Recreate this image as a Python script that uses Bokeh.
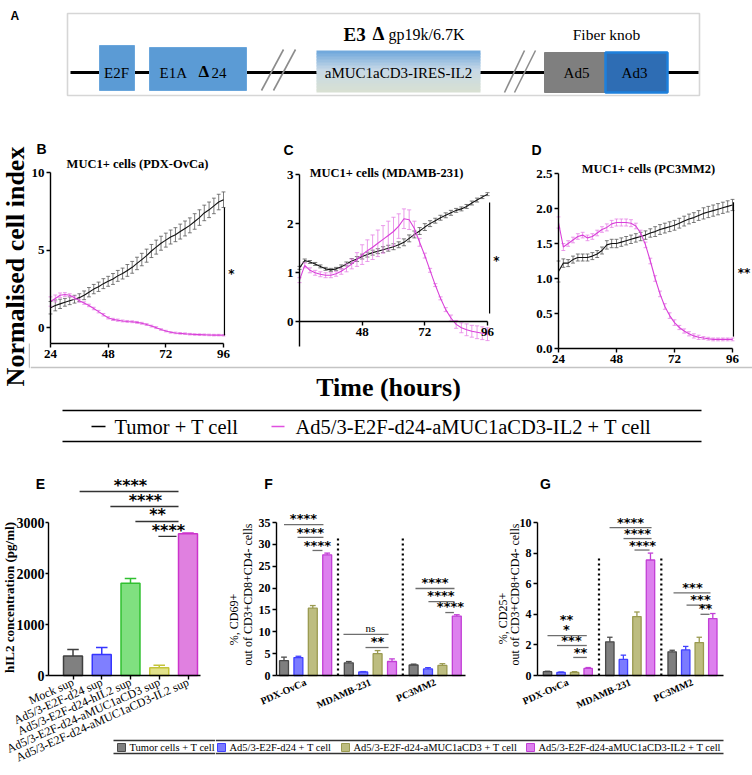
import math
from bokeh.plotting import figure
from bokeh.layouts import row, column
from bokeh.models import Range1d, Label, FixedTicker, NumeralTickFormatter
from bokeh.embed import file_html
from bokeh.resources import INLINE

SERIF = "Liberation Serif"
SANS = "Liberation Sans"
STARF = "DejaVu Sans"

# ------------------------------------------------------------------ data
hours = list(range(24, 97, 2))
ts_names = ["Tumor + T cell", "Ad5/3-E2F-d24-aMUC1aCD3-IL2 + T cell"]

b_tumor = [1.30, 1.45, 1.55, 1.65, 1.75, 1.85, 1.95, 2.10, 2.30, 2.50,
           2.65, 2.85, 3.00, 3.15, 3.35, 3.50, 3.70, 3.90, 4.15, 4.40,
           4.65, 4.95, 5.20, 5.45, 5.65, 5.85, 6.00, 6.20, 6.40, 6.60,
           6.85, 7.10, 7.40, 7.60, 7.85, 8.10, 8.25]
b_tumor_err = [0.40, 0.35, 0.30, 0.25, 0.25, 0.25, 0.25, 0.28, 0.30, 0.30,
               0.30, 0.32, 0.32, 0.35, 0.35, 0.35, 0.38, 0.38, 0.40, 0.40,
               0.42, 0.42, 0.45, 0.45, 0.45, 0.45, 0.45, 0.48, 0.48, 0.48,
               0.50, 0.50, 0.50, 0.50, 0.50, 0.50, 0.50]
b_virus = [1.70, 1.90, 2.10, 2.15, 2.10, 1.95, 1.75, 1.60, 1.45, 1.25,
           1.05, 0.85, 0.65, 0.55, 0.50, 0.45, 0.42, 0.40, 0.36, 0.30,
           0.22, 0.12, 0.02, -0.10, -0.20, -0.28, -0.32, -0.35, -0.37, -0.40,
           -0.42, -0.43, -0.44, -0.45, -0.46, -0.46, -0.47]
b_virus_err = [0.30, 0.22, 0.15, 0.12, 0.10, 0.10, 0.10, 0.08, 0.08, 0.08,
               0.08, 0.08, 0.07, 0.07, 0.07, 0.06, 0.06, 0.06, 0.06, 0.06,
               0.06, 0.06, 0.06, 0.05, 0.05, 0.05, 0.05, 0.05, 0.05, 0.05,
               0.05, 0.05, 0.05, 0.05, 0.05, 0.05, 0.05]

c_tumor = [1.10, 1.25, 1.22, 1.18, 1.13, 1.08, 1.06, 1.08, 1.12, 1.18,
           1.24, 1.28, 1.33, 1.37, 1.41, 1.44, 1.47, 1.50, 1.53, 1.57,
           1.62, 1.70, 1.78, 1.85, 1.93, 2.00, 2.06, 2.12, 2.17, 2.22,
           2.27, 2.30, 2.35, 2.42, 2.48, 2.54, 2.60]
c_tumor_err = [0.03, 0.03, 0.03, 0.03, 0.03, 0.03, 0.03, 0.03, 0.04, 0.04,
               0.05, 0.05, 0.05, 0.05, 0.05, 0.05, 0.06, 0.06, 0.06, 0.06,
               0.07, 0.07, 0.07, 0.07, 0.07, 0.06, 0.05, 0.05, 0.05, 0.05,
               0.04, 0.04, 0.04, 0.04, 0.04, 0.03, 0.03]
c_virus = [0.85, 1.15, 1.05, 1.00, 0.97, 0.95, 0.95, 0.98, 1.03, 1.10,
           1.18, 1.27, 1.37, 1.45, 1.52, 1.60, 1.68, 1.76, 1.84, 1.95,
           2.10, 2.08, 1.90, 1.62, 1.35, 1.05, 0.75, 0.48, 0.25, 0.08,
           -0.05, -0.12, -0.16, -0.19, -0.21, -0.23, -0.25]
c_virus_err = [0.05, 0.05, 0.05, 0.05, 0.05, 0.05, 0.05, 0.05, 0.06, 0.08,
               0.10, 0.14, 0.20, 0.22, 0.25, 0.27, 0.28, 0.29, 0.29, 0.25,
               0.20, 0.20, 0.15, 0.08, 0.05, 0.04, 0.03, 0.03, 0.04, 0.06,
               0.08, 0.10, 0.12, 0.12, 0.13, 0.13, 0.13]

d_tumor = [1.10, 1.22, 1.22, 1.27, 1.30, 1.30, 1.30, 1.32, 1.35, 1.40,
           1.48, 1.50, 1.50, 1.52, 1.54, 1.56, 1.58, 1.60, 1.62, 1.65,
           1.67, 1.70, 1.72, 1.74, 1.76, 1.79, 1.82, 1.85, 1.87, 1.90,
           1.93, 1.95, 1.97, 1.99, 2.01, 2.03, 2.05]
d_tumor_err = [0.15, 0.06, 0.05, 0.05, 0.05, 0.05, 0.05, 0.05, 0.05, 0.05,
               0.06, 0.06, 0.06, 0.06, 0.06, 0.06, 0.06, 0.06, 0.06, 0.06,
               0.07, 0.07, 0.07, 0.07, 0.07, 0.07, 0.07, 0.07, 0.07, 0.07,
               0.08, 0.08, 0.08, 0.08, 0.08, 0.08, 0.08]
d_virus = [1.80, 1.45, 1.50, 1.55, 1.60, 1.62, 1.58, 1.60, 1.65, 1.70,
           1.73, 1.78, 1.80, 1.80, 1.80, 1.79, 1.75, 1.65, 1.48, 1.25,
           1.00, 0.78, 0.60, 0.47, 0.37, 0.30, 0.25, 0.21, 0.18, 0.16,
           0.15, 0.14, 0.13, 0.13, 0.13, 0.13, 0.13]
d_virus_err = [0.08, 0.05, 0.04, 0.04, 0.04, 0.04, 0.04, 0.04, 0.04, 0.04,
               0.05, 0.05, 0.05, 0.05, 0.05, 0.05, 0.04, 0.04, 0.04, 0.04,
               0.04, 0.04, 0.04, 0.04, 0.04, 0.03, 0.03, 0.03, 0.03, 0.03,
               0.02, 0.02, 0.02, 0.02, 0.02, 0.02, 0.02]

e_labels = ["Mock sup", "Ad5/3-E2F-d24 sup", "Ad5/3-E2F-d24-hIL2 sup",
            "Ad5/3-E2F-d24-aMUC1aCD3 sup", "Ad5/3-E2F-d24-aMUC1aCD3-IL2 sup"]
e_values = [380, 410, 1810, 150, 2780]
e_errors = [130, 140, 90, 50, 12]

cell_lines = ["PDX-OvCa", "MDAMB-231", "PC3MM2"]
treatments = ["Tumor cells + T cell", "Ad5/3-E2F-d24 + T cell",
              "Ad5/3-E2F-d24-aMUC1aCD3 + T cell", "Ad5/3-E2F-d24-aMUC1aCD3-IL2 + T cell"]
f_tumor = [3.4, 2.9, 2.4]
f_tumor_err = [0.8, 0.3, 0.2]
f_d24 = [4.1, 0.8, 1.5]
f_d24_err = [0.3, 0.1, 0.3]
f_muc = [15.4, 5.0, 2.3]
f_muc_err = [0.6, 0.7, 0.4]
f_il2 = [27.6, 3.2, 13.6]
f_il2_err = [0.4, 0.6, 0.3]
g_tumor = [0.25, 2.2, 1.55]
g_tumor_err = [0.03, 0.3, 0.1]
g_d24 = [0.2, 1.05, 1.67]
g_d24_err = [0.03, 0.28, 0.23]
g_muc = [0.2, 3.85, 2.15]
g_muc_err = [0.05, 0.3, 0.35]
g_il2 = [0.46, 7.55, 3.72]
g_il2_err = [0.06, 0.45, 0.33]

# significance annotations: (x_from, x_to, y_line) and (text, x, y) in data units
e_sig_lines = [(1.23, 4.67, 3608), (2.3, 4.67, 3314), (3.17, 4.67, 3020), (3.97, 4.6, 2726)]
e_sig_text = [("****", 3.0, 3784), ("****", 3.52, 3490), ("**", 3.94, 3216), ("****", 4.32, 2902)]
f_sig_lines = [(0.0, 2.74, 34.5), (0.94, 2.74, 31.6), (1.98, 2.67, 28.6),
               (4.13, 7.26, 9.4), (5.66, 7.26, 6.4),
               (9.13, 11.84, 19.9), (10.03, 11.84, 16.9), (11.2, 11.8, 14.4)]
f_sig_text = [("****", 1.35, 36.4), ("****", 1.83, 33.2), ("****", 2.32, 30.2),
              ("ns", 6.0, 10.8), ("**", 6.49, 8.2),
              ("****", 10.49, 21.7), ("****", 10.9, 18.8), ("****", 11.56, 16.2)]
g_sig_lines = [(0.0, 2.9, 2.6), (0.7, 2.9, 1.96), (1.9, 2.9, 1.18),
               (4.58, 7.68, 9.67), (5.61, 7.68, 8.95), (6.42, 7.53, 8.2),
               (9.3, 12.03, 5.4), (10.26, 12.03, 4.6), (11.29, 11.96, 4.0)]
g_sig_text = [("**", 1.4, 3.8), ("*", 1.4, 3.14), ("***", 1.77, 2.42), ("**", 2.44, 1.63),
              ("****", 6.13, 10.13), ("****", 6.64, 9.41), ("****", 7.01, 8.63),
              ("***", 10.7, 5.88), ("***", 11.29, 5.1), ("**", 11.66, 4.5)]

# ------------------------------------------------------------------ styles
TUMOR_LINE, TUMOR_ERR = "#111111", "#5a5a5a"
VIRUS_LINE, VIRUS_ERR = "#d940d9", "#e683e6"
E_FILL = ["#808080", "#7f7fff", "#80e080", "#e2e28a", "#e080e0"]
E_EDGE = ["#3f3f3f", "#3535ff", "#30c030", "#c4c43a", "#cc33cc"]
T_FILL = ["#7f7f7f", "#7b7bff", "#bdbd80", "#dd80ee"]
T_EDGE = ["#4a4a4a", "#4040ff", "#9a9a50", "#c23fd6"]


class Geo:
    """maps page pixels to data values"""
    def __init__(self, box, frame, xr, yr):
        self.box, self.frame, self.xr, self.yr = box, frame, xr, yr

    def X(self, px):
        f0, f1 = self.frame[0], self.frame[1]
        return self.xr[0] + (px - f0) * (self.xr[1] - self.xr[0]) / (f1 - f0)

    def Y(self, py):
        f0, f1 = self.frame[2], self.frame[3]
        return self.yr[1] - (py - f0) * (self.yr[1] - self.yr[0]) / (f1 - f0)


def flat(box):
    return Geo(box, box, (box[0], box[1]), (box[3], box[2]))


def extend(box, plot, xr, yr):
    inner = Geo(box, plot, xr, yr)
    return Geo(box, box, (inner.X(box[0]), inner.X(box[1])), (inner.Y(box[3]), inner.Y(box[2])))


def make_fig(g, axes=True):
    bx0, bx1, by0, by1 = g.box
    kw = dict(width=bx1 - bx0, height=by1 - by0,
              x_range=Range1d(*g.xr), y_range=Range1d(*g.yr),
              toolbar_location=None, output_backend="svg",
              min_border_left=0, min_border_right=0, min_border_top=0, min_border_bottom=0)
    if not axes:
        kw.update(x_axis_location=None, y_axis_location=None)
    p = figure(**kw)
    p.title.visible = False
    p.outline_line_color = None
    p.background_fill_color = "white"
    p.border_fill_color = "white"
    p.grid.visible = False
    return p


def style_axes(p, size, xr, yr, bold=True):
    p.xaxis.fixed_location = yr[0]
    p.xaxis.bounds = xr
    p.yaxis.fixed_location = xr[0]
    p.yaxis.bounds = yr
    for ax in (p.xaxis[0], p.yaxis[0]):
        ax.axis_line_color = "black"
        ax.axis_line_width = 1.4
        ax.major_tick_line_color = "black"
        ax.major_tick_line_width = 1.4
        ax.major_tick_out = 4
        ax.major_tick_in = 0
        ax.minor_tick_line_color = None
        ax.major_label_text_font = SERIF
        ax.major_label_text_font_style = "bold" if bold else "normal"
        ax.major_label_text_font_size = f"{size}px"
        ax.major_label_text_color = "black"
        ax.major_label_standoff = 2


def text(p, g, px, py, s, size, font=SERIF, style="normal", align="center",
         baseline="middle", angle=0.0, color="black"):
    p.add_layout(Label(x=g.X(px), y=g.Y(py), text=s, text_font=font,
                       text_font_size=f"{size}px", text_font_style=style,
                       text_align=align, text_baseline=baseline, angle=angle,
                       text_color=color))


def stars(p, x, y, s, size, font=STARF, style="bold"):
    p.add_layout(Label(x=x, y=y, text=s, text_font=font, text_font_size=f"{size}px",
                       text_font_style=style, text_align="center", text_baseline="middle",
                       y_offset=-0.17 * size if "*" in s else 0, text_color="black"))


def pline(p, g, px0, py0, px1, py1, color="black", width=1.2):
    p.segment([g.X(px0)], [g.Y(py0)], [g.X(px1)], [g.Y(py1)], line_color=color, line_width=width)


def pbox(p, g, px0, px1, py0, py1, fill, edge, width=1):
    p.quad(left=[g.X(px0)], right=[g.X(px1)], top=[g.Y(py0)], bottom=[g.Y(py1)],
           fill_color=fill, line_color=edge, line_width=width)


# ------------------------------------------------------------------ panel A
ga = flat((0, 752, 0, 108))
pa = make_fig(ga, axes=False)
pa.quad(left=[67], right=[699], top=[13], bottom=[95], fill_color=None,
        line_color="#d6d6d6", line_width=1.6)
pa.line([70, 698], [72, 72], line_color="black", line_width=3)
pa.quad(left=[99], right=[134], top=[45], bottom=[90], fill_color="#5b9bd5", line_color="#6aa6dc")
pa.quad(left=[149], right=[246], top=[47], bottom=[90], fill_color="#5b9bd5", line_color="#6aa6dc")


def mix(c1, c2, t):
    a = [int(c1[i:i + 2], 16) for i in (1, 3, 5)]
    b = [int(c2[i:i + 2], 16) for i in (1, 3, 5)]
    return "#%02x%02x%02x" % tuple(round(a[k] + (b[k] - a[k]) * t) for k in range(3))


n_strip = 14
gt, gb, gc = [], [], []
for i in range(n_strip):
    gt.append(50 + i * 3)
    gb.append(54 + i * 3 if i < n_strip - 1 else 92)
    t = i / (n_strip - 1)
    gc.append(mix("#72a9dc", "#c6d8e6", t / 0.45) if t < 0.45 else mix("#c6d8e6", "#d8e0d3", (t - 0.45) / 0.55))
pa.quad(left=[316] * n_strip, right=[480] * n_strip, top=gt, bottom=gb, fill_color=gc, line_color=None)
pa.quad(left=[544], right=[605], top=[52], bottom=[92], fill_color="#7f7f7f", line_color="#7f7f7f")
pa.quad(left=[605], right=[667], top=[52], bottom=[92], fill_color="#2e6db4", line_color="#1e80dc", line_width=2.5)
pa.segment(x0=[261, 273, 504, 514], y0=[90, 90, 92, 92], x1=[283, 295, 524, 535], y1=[49, 49, 50, 50],
           line_color="#8c8c8c", line_width=1.6)
text(pa, ga, 10, 15, "A", 12, SANS, "bold", align="left")
text(pa, ga, 116, 72, "E2F", 15)
text(pa, ga, 159, 72, "E1A", 15, align="left")
text(pa, ga, 198, 71, "Δ", 17, style="bold", align="left")
text(pa, ga, 211, 72, "24", 15, align="left")
text(pa, ga, 398, 72, "aMUC1aCD3-IRES-IL2", 15)
text(pa, ga, 576, 72, "Ad5", 15)
text(pa, ga, 634, 72, "Ad3", 15)
text(pa, ga, 343, 34, "E3", 19, style="bold", align="left")
text(pa, ga, 372, 33, "Δ", 19, style="bold", align="left")
text(pa, ga, 388, 34, "gp19k/6.7K", 16, align="left")
text(pa, ga, 606, 34, "Fiber knob", 15.5)


# ------------------------------------------------------------------ panels B, C, D
def draw_series(p, xs, ys, es, lc, ec, cap):
    lo = [y - e for y, e in zip(ys, es)]
    hi = [y + e for y, e in zip(ys, es)]
    p.segment(xs, lo, xs, hi, line_color=ec, line_width=0.8)
    p.segment([x - cap for x in xs], hi, [x + cap for x in xs], hi, line_color=ec, line_width=0.8)
    p.segment([x - cap for x in xs], lo, [x + cap for x in xs], lo, line_color=ec, line_width=0.8)
    p.line(xs, ys, line_color=lc, line_width=1.1)


def ts_panel(box, plot, yr, yticks, xticks, tumor, tumor_err, virus, virus_err,
             title, title_xy, letter, letter_xy, sig, yfmt=None, xaxis_y=None):
    xr = (24, 96)
    g = extend(box, plot, xr, yr)
    p = make_fig(g)
    style_axes(p, 13, xr, yr)
    if xaxis_y is not None:
        p.xaxis.fixed_location = xaxis_y
    p.yaxis.ticker = FixedTicker(ticks=yticks)
    p.xaxis.ticker = FixedTicker(ticks=xticks)
    if yfmt:
        p.yaxis.formatter = NumeralTickFormatter(format=yfmt)
    draw_series(p, hours, tumor, tumor_err, TUMOR_LINE, TUMOR_ERR, 0.8)
    draw_series(p, hours, virus, virus_err, VIRUS_LINE, VIRUS_ERR, 0.8)
    text(p, g, letter_xy[0], letter_xy[1], letter, 14, SANS, "bold")
    text(p, g, title_xy[0], title_xy[1], title, 12.5, SERIF, "bold")
    x, y0, y1, s, tx, ty, sz = sig
    p.segment([x], [y0], [x], [y1], line_color="black", line_width=1.2)
    stars(p, tx, ty, s, sz)
    return p


pb = ts_panel((30, 255, 108, 365), (50, 223, 172, 343), (-1, 10), [0, 5, 10], [24, 48, 72, 96],
              b_tumor, b_tumor_err, b_virus, b_virus_err,
              "MUC1+ cells (PDX-OvCa)", (137, 163), "B", (41, 148),
              (96.4, -0.48, 7.75, "*", 99.3, 3.57, 12))
pc = ts_panel((255, 505, 108, 365), (299, 487, 174, 346), (-0.5, 3), [0, 1, 2, 3], [48, 72, 96],
              c_tumor, c_tumor_err, c_virus, c_virus_err,
              "MUC1+ cells (MDAMB-231)", (386, 172), "C", (288, 149),
              (96.8, 0.17, 2.43, "*", 99.4, 1.29, 12), xaxis_y=0)
pd_ = ts_panel((505, 752, 108, 365), (558, 732, 173, 348), (0, 2.5), [0, 0.5, 1, 1.5, 2, 2.5],
               [24, 48, 72, 96],
               d_tumor, d_tumor_err, d_virus, d_virus_err,
               "MUC1+ cells (PC3MM2)", (648, 168), "D", (536, 149),
               (96.4, 0.17, 2.09, "**", 100.8, 1.11, 12), yfmt="0.0")

# y title (left strip)
gl = flat((0, 30, 108, 455))
pl = make_fig(gl, axes=False)
text(pl, gl, 15, 266, "Normalised cell index", 26, SERIF, "bold", angle=math.pi / 2)
pl.segment([29], [343], [29], [367], line_color="#c4c4c4", line_width=1.5)
pl.segment([29], [367], [30], [367], line_color="#c4c4c4", line_width=1.5)

# x title + legend for B-D
g1 = flat((30, 752, 365, 455))
p1 = make_fig(g1, axes=False)
p1.segment([30], [367], [752], [367], line_color="#c4c4c4", line_width=1.5)
text(p1, g1, 388, 387, "Time (hours)", 26, SERIF, "bold")
p1.segment([62, 62], [410, 441], [701, 701], [410, 441], line_color="black", line_width=1.3)
p1.segment([91, 271], [426, 426], [105, 284], [426, 426], line_color=["black", "#e050e0"], line_width=1.4)
text(p1, g1, 114, 426, ts_names[0], 20.5, align="left")
text(p1, g1, 295, 426, ts_names[1], 20.5, align="left")

# ------------------------------------------------------------------ panel E
E_UNIT = 28.75
e_x0 = 1 - (72.5 - 48) / E_UNIT
e_xr = (e_x0, e_x0 + (200 - 48) / E_UNIT)
ge = extend((0, 215, 455, 775), (48, 200, 522, 675), e_xr, (0, 3000))
pe = make_fig(ge)
style_axes(pe, 14, e_xr, (0, 3000))
pe.yaxis.major_tick_out = 3
pe.yaxis.major_label_standoff = 1
e_pos = [i + 1 for i in range(len(e_values))]
pe.yaxis.ticker = FixedTicker(ticks=[0, 1000, 2000, 3000])
pe.xaxis.ticker = FixedTicker(ticks=e_pos)
pe.xaxis.major_label_overrides = {x: lab for x, lab in zip(e_pos, e_labels)}
pe.xaxis.major_label_orientation = 0.42
pe.xaxis.major_label_text_font_style = "normal"
pe.xaxis.major_label_text_font_size = "12px"
pe.vbar(x=e_pos, top=e_values, width=0.66, fill_color=E_FILL, line_color=E_EDGE, line_width=1.5)
e_top = [v + e for v, e in zip(e_values, e_errors)]
pe.segment(e_pos, e_values, e_pos, e_top, line_color=E_EDGE, line_width=1.5)
pe.segment([x - 0.2 for x in e_pos], e_top, [x + 0.2 for x in e_pos], e_top, line_color=E_EDGE, line_width=1.5)
for x0, x1, y in e_sig_lines:
    pe.segment([x0], [y], [x1], [y], line_color="#333333", line_width=1.3)
for s, x, y in e_sig_text:
    stars(pe, x, y, s, 16)
text(pe, ge, 40, 483, "E", 14, SANS, "bold")
text(pe, ge, 9, 597, "hIL2 concentration (pg/ml)", 13, SERIF, "bold", angle=math.pi / 2)
# part of the bottom legend that lies under panel E
pline(pe, ge, 113, 740, 215, 740, "#333333", 1.3)
pline(pe, ge, 113, 753, 215, 753, "#333333", 1.3)
pbox(pe, ge, 117, 125, 743, 751, T_FILL[0], T_EDGE[0])
text(pe, ge, 129, 747, treatments[0], 10.5, align="left")


# ------------------------------------------------------------------ panels F, G
def bar_panel(box, plot, first_px, unit, gap, yr, yticks, series, errs, sig_lines, sig_text,
              letter, letter_xy, sep_top):
    x0 = -(first_px - plot[0]) / unit
    xr = (x0, x0 + (plot[1] - plot[0]) / unit)
    g = extend(box, plot, xr, yr)
    p = make_fig(g)
    style_axes(p, 12, xr, yr)
    p.yaxis.ticker = FixedTicker(ticks=yticks)
    centers = [k * gap + 1.5 for k in range(len(cell_lines))]
    p.xaxis.ticker = FixedTicker(ticks=centers)
    p.xaxis.major_label_overrides = {c: lab for c, lab in zip(centers, cell_lines)}
    p.xaxis.major_label_orientation = 0.42
    p.xaxis.major_label_text_font_size = "10px"
    p.xaxis.major_tick_out = 0
    p.xaxis.major_label_standoff = 6
    for k, (vals, ers) in enumerate(zip(series, errs)):
        xs = [gi * gap + k for gi in range(len(vals))]
        p.vbar(x=xs, top=vals, width=0.62, fill_color=T_FILL[k], line_color=T_EDGE[k], line_width=1.3)
        tops = [v + e for v, e in zip(vals, ers)]
        p.segment(xs, vals, xs, tops, line_color=T_EDGE[k], line_width=1.3)
        p.segment([x - 0.2 for x in xs], tops, [x + 0.2 for x in xs], tops, line_color=T_EDGE[k], line_width=1.3)
    seps = [(3 + gap) / 2, gap + (3 + gap) / 2]
    p.segment(seps, [0, 0], seps, [sep_top, sep_top], line_color="black", line_width=2.2, line_dash="2 3")
    for a, b, y in sig_lines:
        p.segment([a], [y], [b], [y], line_color="#6e6e6e", line_width=1.3)
    for s, x, y in sig_text:
        if s == "ns":
            stars(p, x, y, s, 11, SERIF, "normal")
        else:
            stars(p, x, y, s, 13)
    text(p, g, letter_xy[0], letter_xy[1], letter, 14, SANS, "bold")
    return p, g


pf, gf = bar_panel((215, 492, 455, 730), (276, 465, 522, 675), 283.5, 14.4, 4.5, (0, 35),
                   [0, 5, 10, 15, 20, 25, 30, 35],
                   [f_tumor, f_d24, f_muc, f_il2], [f_tumor_err, f_d24_err, f_muc_err, f_il2_err],
                   f_sig_lines, f_sig_text, "F", (268, 483), 32)
text(pf, gf, 233, 619, "%, CD69+", 12, angle=math.pi / 2)
text(pf, gf, 247, 594, "out of CD3+CD8+CD4- cells", 12, angle=math.pi / 2)

pg, gg = bar_panel((492, 752, 455, 730), (537, 723, 522, 675), 547, 13.55, 4.6, (0, 10),
                   [0, 2, 4, 6, 8, 10],
                   [g_tumor, g_d24, g_muc, g_il2], [g_tumor_err, g_d24_err, g_muc_err, g_il2_err],
                   g_sig_lines, g_sig_text, "G", (545, 483), 7.65)
text(pg, gg, 502, 618, "%, CD25+", 12, angle=math.pi / 2)
text(pg, gg, 514, 594, "out of CD3+CD8+CD4- cells", 12, angle=math.pi / 2)

# bottom legend (right part)
g2 = flat((215, 752, 730, 775))
p2 = make_fig(g2, axes=False)
p2.segment([215, 215], [740, 753], [723, 723], [740, 753], line_color="#333333", line_width=1.3)
sq_x = [217, 341, 526]
for k, sx in enumerate(sq_x):
    p2.quad(left=[sx], right=[sx + 8], top=[743], bottom=[751], fill_color=T_FILL[k + 1],
            line_color=T_EDGE[k + 1], line_width=1)
    text(p2, g2, sx + 12, 747, treatments[k + 1], 10.5, align="left")

# ------------------------------------------------------------------ layout
layout = column(
    pa,
    row(pl, column(row(pb, pc, pd_), p1)),
    row(pe, column(row(pf, pg), p2)),
)

open("out.html", "w").write(file_html(layout, INLINE))
